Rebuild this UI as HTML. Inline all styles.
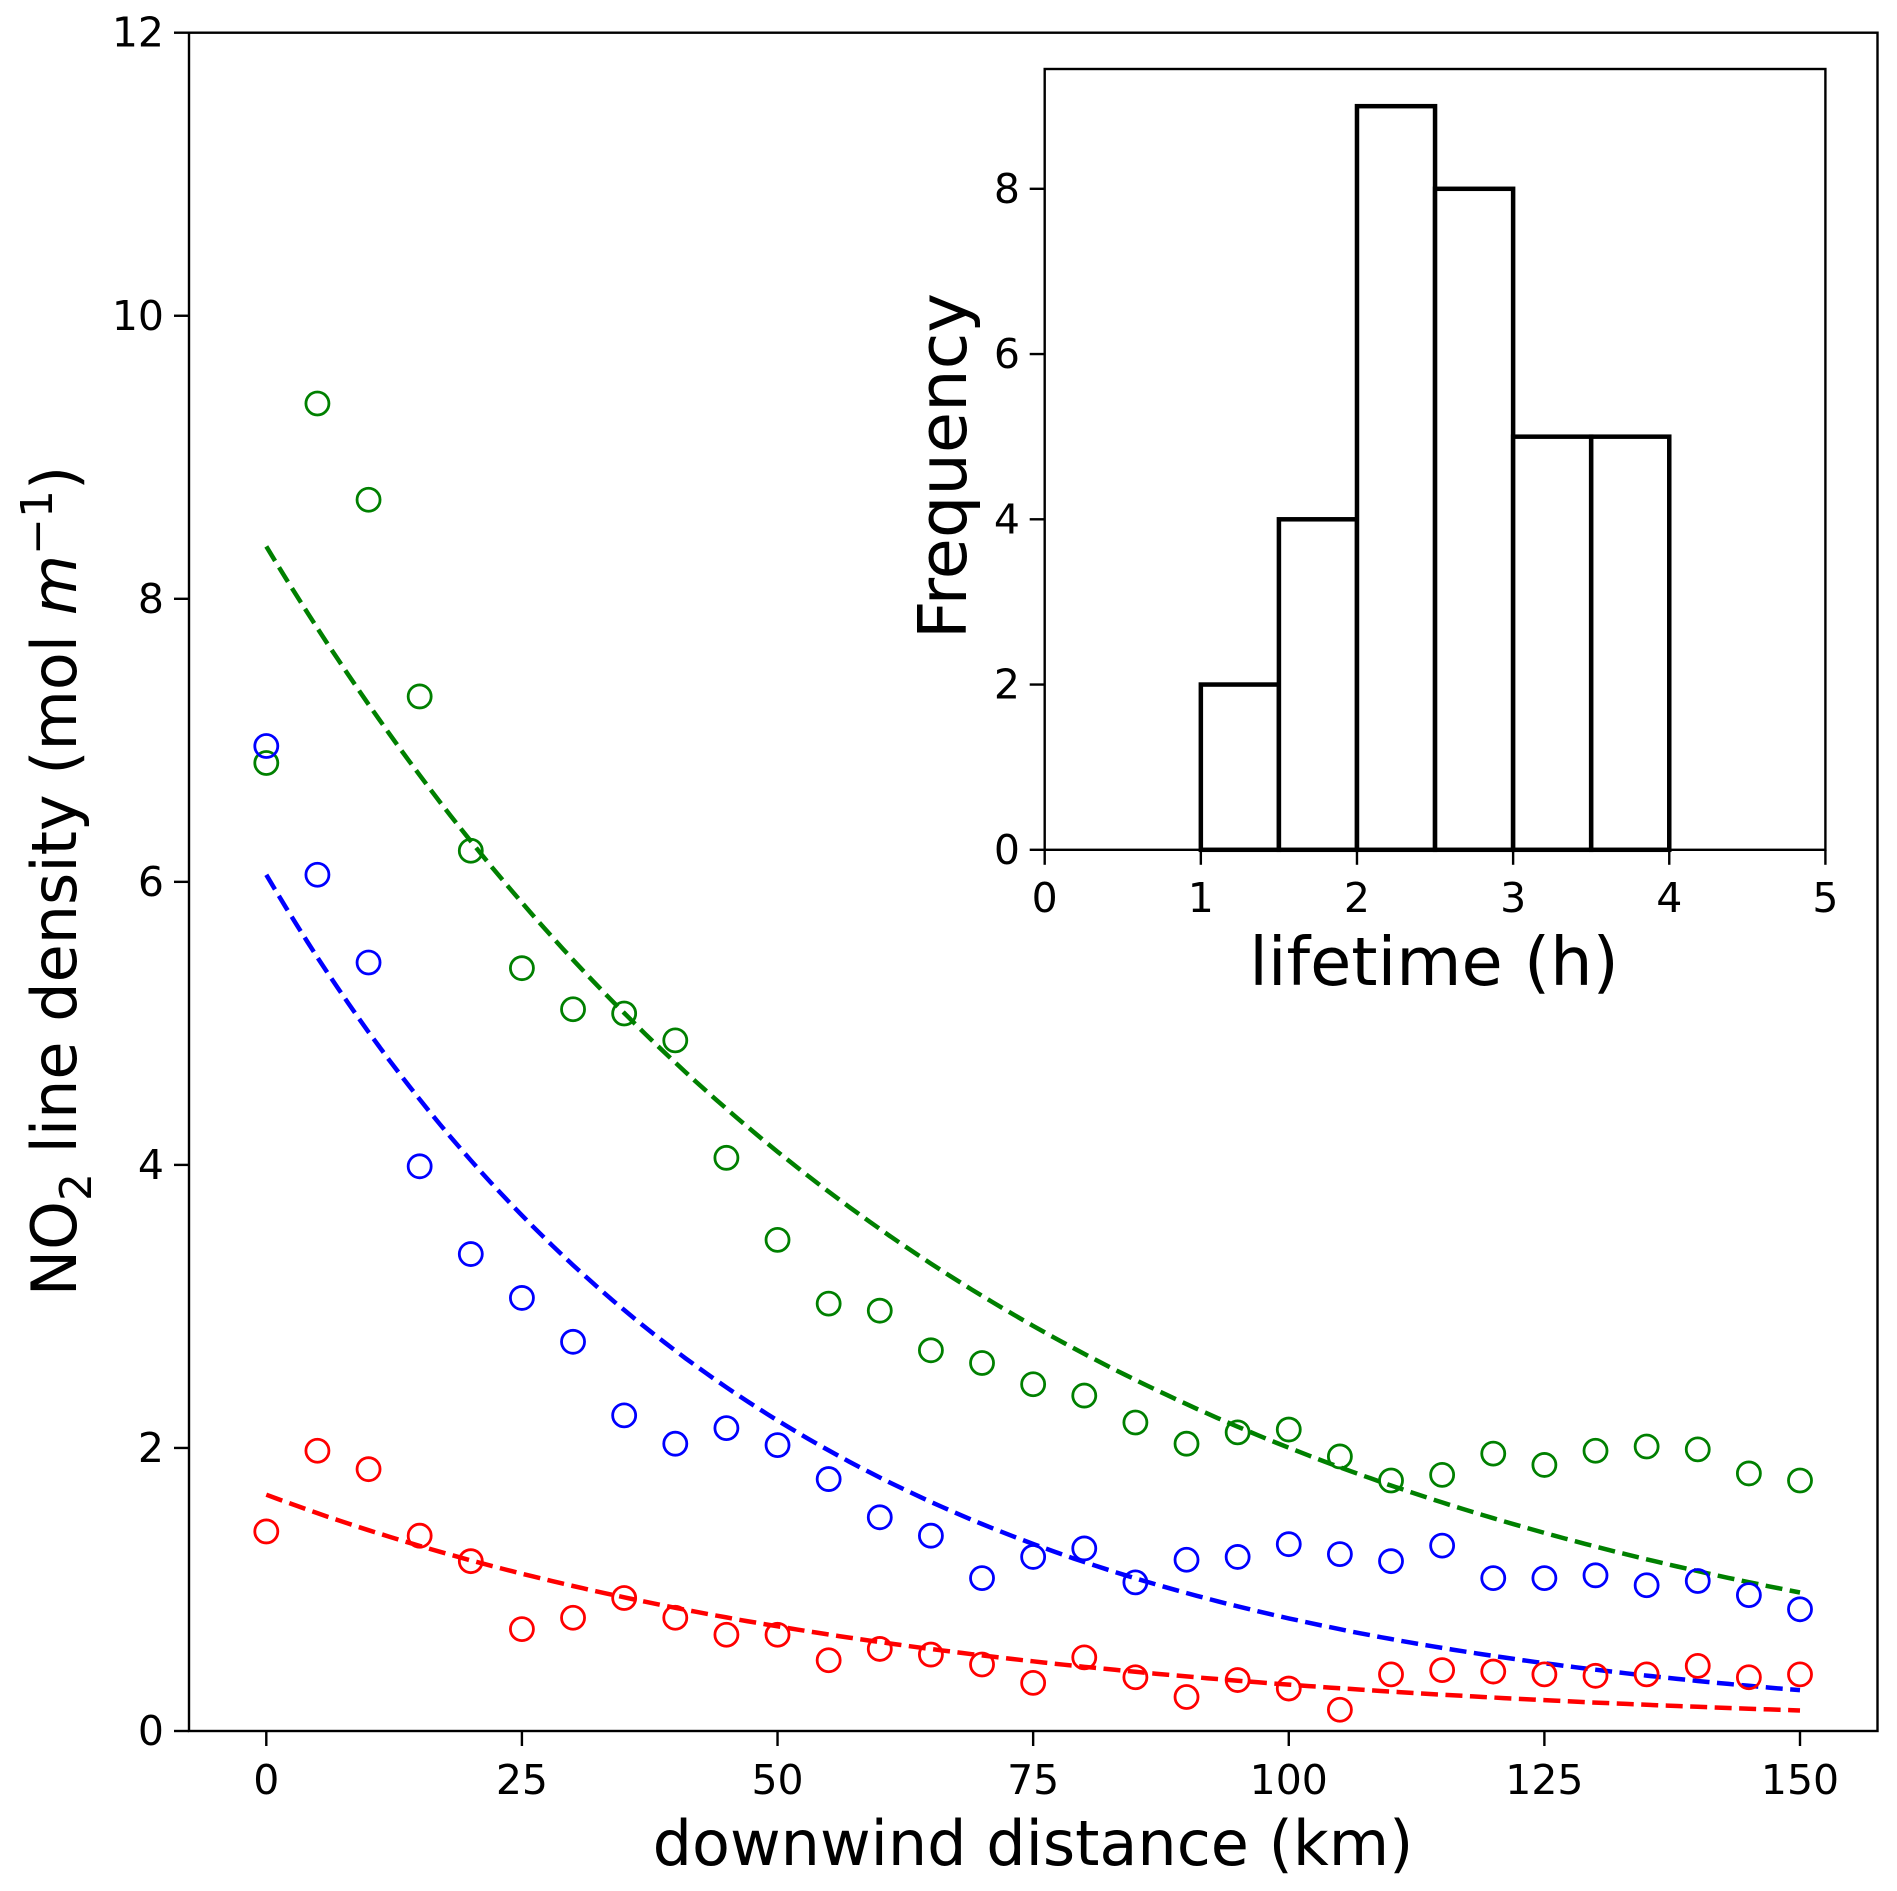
<!DOCTYPE html>
<html><head><meta charset="utf-8"><style>
html,body{margin:0;padding:0;background:#fff}
svg{display:block;font-family:"DejaVu Sans","Liberation Sans",sans-serif}
</style></head><body>
<svg id="c" width="1897" height="1891" viewBox="0 0 1897 1891" xmlns="http://www.w3.org/2000/svg"></svg>
<script>
const distances=[0,5,10,15,20,25,30,35,40,45,50,55,60,65,70,75,80,85,90,95,100,105,110,115,120,125,130,135,140,145,150];
const greenValues=[6.84,9.38,8.70,7.31,6.22,5.39,5.10,5.07,4.88,4.05,3.47,3.02,2.97,2.69,2.60,2.45,2.37,2.18,2.03,2.11,2.13,1.94,1.77,1.81,1.96,1.88,1.98,2.01,1.99,1.82,1.77];
const blueValues=[6.96,6.05,5.43,3.99,3.37,3.06,2.75,2.23,2.03,2.14,2.02,1.78,1.51,1.38,1.08,1.23,1.29,1.05,1.21,1.23,1.32,1.25,1.20,1.31,1.08,1.08,1.10,1.03,1.06,0.96,0.86];
const redValues=[1.41,1.98,1.85,1.38,1.20,0.72,0.80,0.94,0.80,0.68,0.68,0.50,0.58,0.54,0.47,0.34,0.52,0.38,0.24,0.36,0.30,0.15,0.40,0.43,0.42,0.40,0.39,0.40,0.46,0.38,0.40];
const fitAmplitude=[8.37,6.05,1.67];
const fitLength=[69.9,49.3,61.4];
const xTicks=[0,25,50,75,100,125,150];
const yTicks=[0,2,4,6,8,10,12];
const binEdges=[0.5,1,1.5,2,2.5,3,3.5,4,4.5];
const binCounts=[0,2,4,9,8,5,5,0];
const insetXTicks=[0,1,2,3,4,5];
const insetYTicks=[0,2,4,6,8];

const svg=document.getElementById('c');
const NS='http://www.w3.org/2000/svg';
function mk(tag,attrs,parent){const e=document.createElementNS(NS,tag);for(const k in attrs)e.setAttribute(k,attrs[k]);(parent||svg).appendChild(e);return e;}

const L=189,R=1877.5,T=32.7,B=1731;
const X=d=>266.3+d*(1800-266.3)/150;
const Y=v=>B-v*(B-T)/12;
const fitColors=['#008000','#0000ff','#ff0000'];
const series=[greenValues,blueValues,redValues];
const sNames=['green','blue','red'];

for(let s=0;s<3;s++){
  let d='';
  for(let i=0;i<=150;i++){const v=fitAmplitude[s]*Math.exp(-i/fitLength[s]);d+=(i?'L':'M')+X(i).toFixed(1)+','+Y(v).toFixed(1);}
  const p=mk('path',{d:d,fill:'none',stroke:fitColors[s],'stroke-width':4.5,'stroke-dasharray':'17,7.5'});
  
  
}
for(let s=0;s<3;s++){
  const g=mk('g',{});
  
  
  series[s].forEach((v,i)=>{
    const c=mk('circle',{cx:X(distances[i]),cy:Y(v),r:11.5,fill:'none',stroke:fitColors[s],'stroke-width':2.8},g);
    
    
  });
}
const frame=mk('rect',{x:L,y:T,width:R-L,height:B-T,fill:'none',stroke:'#000','stroke-width':2.4});


xTicks.forEach(t=>{
  mk('line',{x1:X(t),x2:X(t),y1:B,y2:B+15,stroke:'#000','stroke-width':2.4});
  const tx=mk('text',{x:X(t),y:1794,'font-size':41,'text-anchor':'middle'});tx.textContent=t;
  
  
});
yTicks.forEach(t=>{
  mk('line',{x1:L-15,x2:L,y1:Y(t),y2:Y(t),stroke:'#000','stroke-width':2.4});
  const tx=mk('text',{x:164,y:Y(t)+14,'font-size':41,'text-anchor':'end'});tx.textContent=t;
  
  
});
const xl=mk('text',{x:1033,y:1865,'font-size':62,'text-anchor':'middle'});xl.textContent='downwind distance (km)';


const yl=mk('text',{x:0,y:0,'font-size':62,'text-anchor':'middle',transform:'translate(76,881) rotate(-90)'});
yl.innerHTML='NO<tspan font-size="44" dy="15">2</tspan><tspan dy="-15"> line density (mol </tspan><tspan font-style="italic">m</tspan><tspan font-size="44" dy="-24">−1</tspan><tspan dy="24">)</tspan>';



// inset
const iL=1044.7,iR=1825.4,iT=69,iB=849.8;
const IX=v=>iL+v*(iR-iL)/5;
const IY=v=>iB-v*(iB-188.8)/8;
mk('rect',{x:iL,y:iT,width:iR-iL,height:iB-iT,fill:'#fff',stroke:'none'});
binCounts.forEach((c,i)=>{
  const r=mk('rect',{x:IX(binEdges[i]),y:IY(c),width:IX(binEdges[i+1])-IX(binEdges[i]),height:IY(0)-IY(c),fill:'#fff',stroke:'#000','stroke-width':4.5});
  
  
});
const iframe=mk('rect',{x:iL,y:iT,width:iR-iL,height:iB-iT,fill:'none',stroke:'#000','stroke-width':2.4});


insetXTicks.forEach(t=>{
  mk('line',{x1:IX(t),x2:IX(t),y1:iB,y2:iB+15,stroke:'#000','stroke-width':2.4});
  const tx=mk('text',{x:IX(t),y:912,'font-size':41,'text-anchor':'middle'});tx.textContent=t;
  
  
});
insetYTicks.forEach(t=>{
  mk('line',{x1:iL-15,x2:iL,y1:IY(t),y2:IY(t),stroke:'#000','stroke-width':2.4});
  const tx=mk('text',{x:1020,y:IY(t)+14,'font-size':41,'text-anchor':'end'});tx.textContent=t;
  
  
});
const ixl=mk('text',{x:1434,y:985,'font-size':67,'text-anchor':'middle'});ixl.textContent='lifetime (h)';


const iyl=mk('text',{x:0,y:0,'font-size':67,'text-anchor':'middle',transform:'translate(966,466) rotate(-90)'});iyl.textContent='Frequency';


</script>
</body></html>
